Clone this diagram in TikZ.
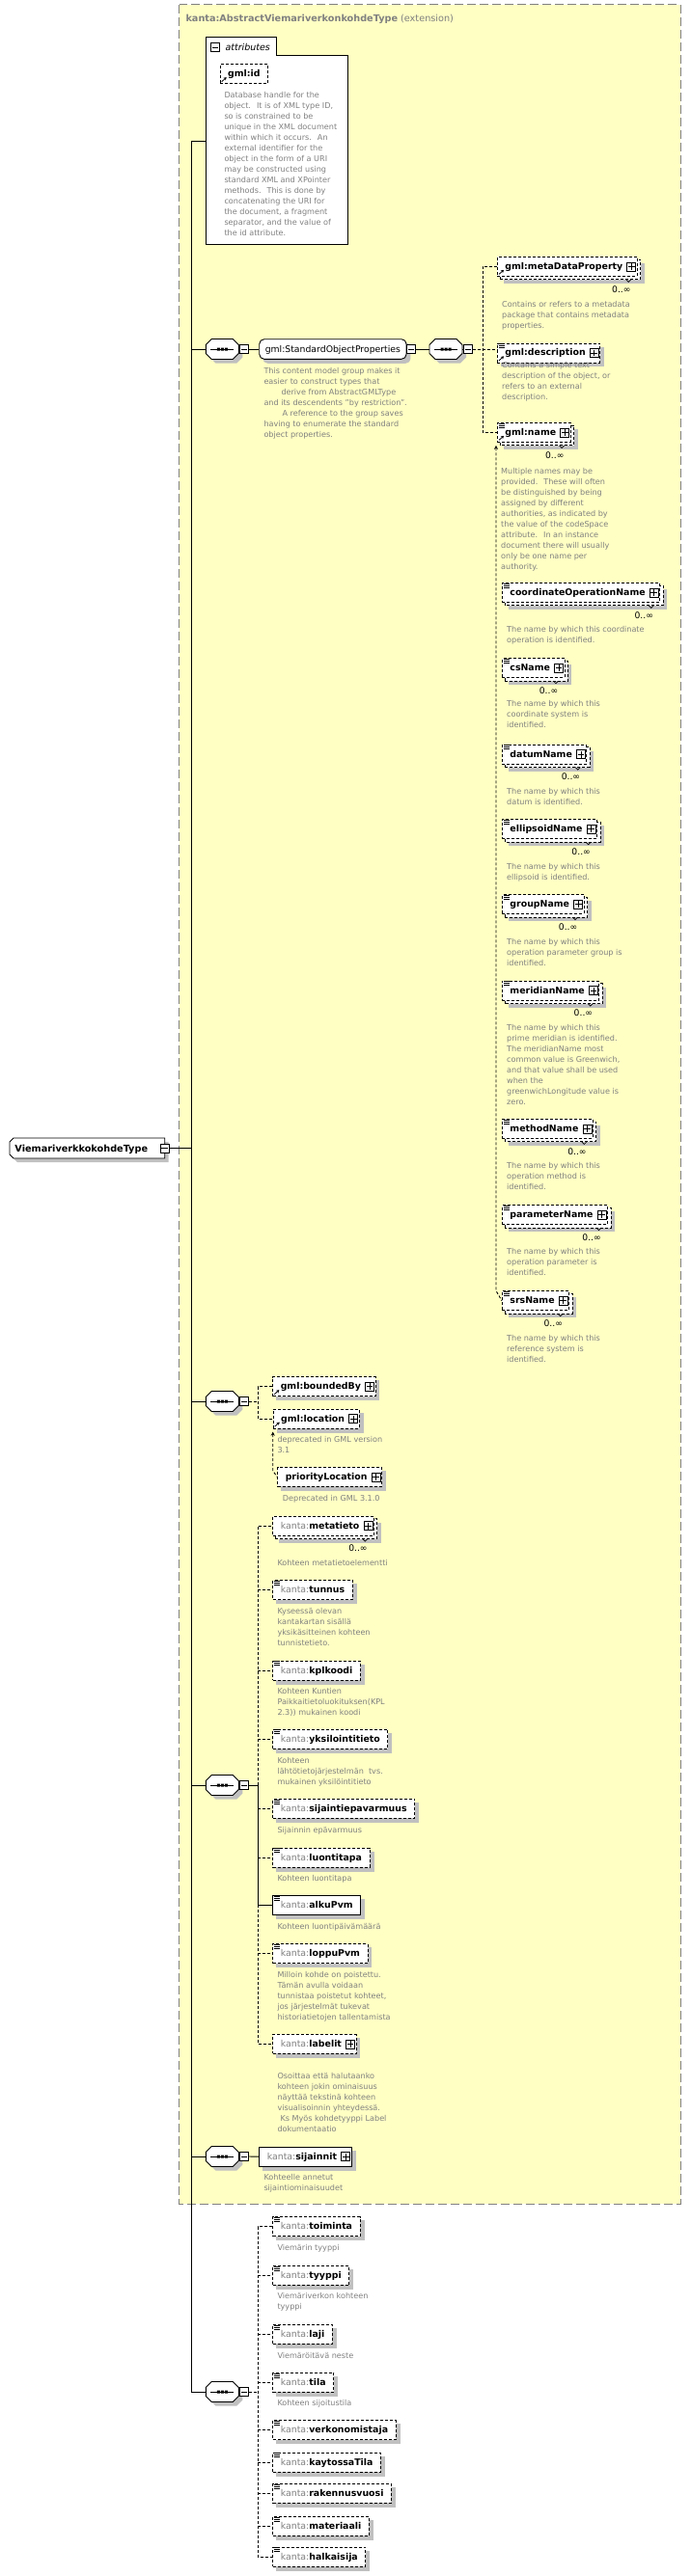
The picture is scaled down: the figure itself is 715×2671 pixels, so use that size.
\documentclass[tikz,border=0pt]{standalone}
\usepackage{fontspec}
\setmainfont{DejaVu Sans}
\usetikzlibrary{arrows.meta}
\pgfdeclarelayer{bgl}
\pgfdeclarelayer{shl}
\pgfsetlayers{bgl,shl,main}
\definecolor{ybg}{RGB}{255,255,196}
\definecolor{ygrey}{RGB}{128,128,128}
\definecolor{shadowc}{RGB}{192,192,192}
\definecolor{doct}{RGB}{128,128,128}
\tikzset{
  ebox/.style={draw=black, fill=white, line width=0.9pt, inner xsep=8pt, inner ysep=0pt, minimum height=20pt, text height=7.5pt, text depth=1.5pt, anchor=north west, font=\fontsize{9.4}{11}\selectfont},
  opt/.style={dash pattern=on 3pt off 2pt},
  docs/.style={inner sep=0pt, align=left, text=doct, font=\fontsize{8.1}{11}\selectfont, anchor=north west},
  conn/.style={line width=0.9pt},
  dconn/.style={line width=0.9pt, dash pattern=on 3pt off 2pt},
  occ/.style={inner sep=0pt, font=\fontsize{9.2}{11}\selectfont, anchor=base east},
  sbox/.style={draw=black, fill=white, line width=0.8pt, inner sep=0pt, minimum width=9pt, minimum height=9pt},
}
\newcommand\xShd[1]{\begin{pgfonlayer}{shl}\fill[shadowc] ([shift={(4pt,-4pt)}]#1.south west) rectangle ([shift={(4pt,-4pt)}]#1.north east);\end{pgfonlayer}}
\newcommand\xStk[1]{\begin{pgfonlayer}{shl}\fill[shadowc] ([shift={(7pt,-7pt)}]#1.south west) rectangle ([shift={(7pt,-7pt)}]#1.north east);
  \draw[fill=white,line width=0.9pt,dash pattern=on 3pt off 2pt] ([shift={(3pt,-3pt)}]#1.south west) rectangle ([shift={(3pt,-3pt)}]#1.north east);\end{pgfonlayer}}
\newcommand\xMinus[1]{\draw[line width=0.8pt] ([xshift=1.8pt]#1.west) -- ([xshift=-1.8pt]#1.east);}
\newcommand\xPlus[1]{\node[sbox,anchor=east] (#1p) at ([xshift=-1.5pt]#1.east) {};
  \draw[line width=0.8pt] ([xshift=1.5pt]#1p.west) -- ([xshift=-1.5pt]#1p.east) ([yshift=-1.5pt]#1p.north) -- ([yshift=1.5pt]#1p.south);}
\newcommand\xDoc[1]{\draw[line width=0.6pt] ([xshift=2pt,yshift=-1pt]#1.north west) -- ++(6pt,0pt) ([xshift=2pt,yshift=-3pt]#1.north west) -- ++(6pt,0pt) ([xshift=2pt,yshift=-5pt]#1.north west) -- ++(6pt,0pt);}
\newcommand\xRef[1]{\draw[line width=0.8pt,-{Stealth[length=3pt,width=3.5pt]}] ([xshift=2pt,yshift=2.5pt]#1.south west) -- ++(5pt,4.5pt);}
\newcommand\xOcc[1]{\node[occ] (#1o) at ([xshift=-7pt,yshift=-16.3pt]#1.south east) {0..∞};
  \draw[line width=0.7pt] ([xshift=-12pt,yshift=-3pt]#1.south east) -- ++(2.5pt,-2.5pt) -- ++(2.5pt,2.5pt);}
\newcommand\xDesc[4]{\node[docs] (#1) at (#2,{#3-5.2}) {\strut #4};}
\newcommand\xSeq[3]{%
  \begin{scope}[shift={(#2,#3)}]
    \fill[shadowc] (10,-6.5) -- (32,-6.5) -- (38,-0.5) -- (38,8.5) -- (32,14.5) -- (10,14.5) -- (4,8.5) -- (4,-0.5) -- cycle;
    \draw[fill=white,line width=0.9pt] (6,-10.5) -- (28,-10.5) -- (34,-4.5) -- (34,4.5) -- (28,10.5) -- (6,10.5) -- (0,4.5) -- (0,-4.5) -- cycle;
    \draw[line width=0.9pt] (5,0) -- (29,0);
    \fill (11.5,-1.5) rectangle (14.5,1.5) (15.5,-1.5) rectangle (18.5,1.5) (19.5,-1.5) rectangle (22.5,1.5);
  \end{scope}
  \node[inner sep=0pt,minimum width=34pt,minimum height=21pt,anchor=west] (#1) at (#2,#3) {};
  \node[sbox,anchor=west] (#1m) at ({#2+35},#3) {};
  \xMinus{#1m}
  \draw[line width=0.9pt] (#1.east) -- (#1m.west);
}
\newcommand\pl{\kern7pt}
\begin{document}
\begin{tikzpicture}[x=1pt,y=-1pt]
\useasboundingbox (0,0) rectangle (715,2671);
\begin{pgfonlayer}{bgl}
\fill[white] (0,0) rectangle (715,2671);
\filldraw[fill=ybg, draw=ygrey, line width=1pt, dash pattern=on 9pt off 4pt] (185.7,5) rectangle (705,2285);
\end{pgfonlayer}
\node[anchor=base west, inner sep=0pt, text=ygrey, font=\fontsize{9.7}{11}\selectfont] (title) at (192.3,23) {\textbf{kanta:AbstractViemariverkonkohdeType} (extension)};

% attributes
\draw[fill=white, line width=0.9pt] (213.3,253.3) -- (213.3,38.3) -- (286.7,38.3) -- (286.7,57.3) -- (360,57.3) -- (360,253.3) -- cycle;
\node[sbox] (attrm) at (223.3,49) {}; \xMinus{attrm}
\node[anchor=base west, inner sep=0pt, font=\fontsize{9.5}{11}\selectfont\itshape] (attrl) at (233.3,52.5) {attributes};
\coordinate (attrin) at (213.3,146);
\node[ebox,opt] (gid) at (227.7,66.3) {\textbf{gml:id}}; \xShd{gid}\xRef{gid}
\xDesc{giddoc}{232.3}{98.7}{Database handle for the\\object.~ It is of XML type ID,\\so is constrained to be\\unique in the XML document\\within which it occurs.~ An\\external identifier for the\\object in the form of a URI\\may be constructed using\\standard XML and XPointer\\methods.~ This is done by\\concatenating the URI for\\the document, a fragment\\separator, and the value of\\the id attribute.}

% root
\fill[shadowc] (18,1184) -- (174.7,1184) -- (174.7,1205) -- (18,1205) -- (14,1201) -- (14,1188) -- cycle;
\draw[fill=white, line width=0.9pt] (14,1180) -- (170.7,1180) -- (170.7,1201) -- (14,1201) -- (10,1197) -- (10,1184) -- cycle;
\node[anchor=base west, inner sep=0pt, font=\fontsize{9.7}{11}\selectfont\bfseries] (root) at (15.3,1194) {ViemariverkkokohdeType};
\node[sbox] (rootm) at (170.4,1190.7) {}; \xMinus{rootm}
\coordinate (mtop) at (198.3,146);
\coordinate (mbot) at (198.3,2480);
\draw[conn] (mtop) -- (mbot);
\draw[conn] (rootm.east) -- (rootm.east -| mtop);
\draw[conn] (mtop) -- (attrin);

% section 1
\xSeq{sqa}{213.3}{362}
\draw[conn] (sqa.west -| mtop) -- (sqa.west);
\node[draw=black, fill=white, line width=0.9pt, rounded corners=5pt, inner xsep=6pt, inner ysep=0pt, minimum height=20.6pt, text height=7.5pt, text depth=1.5pt, anchor=west, font=\fontsize{9.3}{11}\selectfont] (sop) at (268.3,362) {gml:StandardObjectProperties};
\begin{pgfonlayer}{shl}\fill[shadowc, rounded corners=5pt] ([shift={(4pt,-4pt)}]sop.south west) rectangle ([shift={(4pt,-4pt)}]sop.north east);\end{pgfonlayer}
\node[sbox, anchor=west] (sopm) at (sop.east) {}; \xMinus{sopm}
\draw[conn] (sqam.east) -- (sop.west);
\xSeq{sqb}{445}{362}
\draw[conn] (sopm.east) -- (sqb.west);
\xDesc{sopdoc}{273.3}{385}{This content model group makes it\\easier to construct types that\\\hspace*{18pt}derive from AbstractGMLType\\and its descendents "by restriction".\\\hspace*{19pt}A reference to the group saves\\having to enumerate the standard\\object properties.}

\node[ebox,opt] (mdp) at (515,266) {\textbf{gml:metaDataProperty}\pl}; \xStk{mdp}\xPlus{mdp}\xRef{mdp}\xOcc{mdp}
\xDesc{mdpdoc}{520}{316}{Contains or refers to a metadata\\package that contains metadata\\properties.}
\node[ebox,opt] (gdesc) at (515,355.5) {\textbf{gml:description}\pl}; \xShd{gdesc}\xPlus{gdesc}\xDoc{gdesc}\xRef{gdesc}
\xDesc{gdescdoc}{520}{378.3}{Contains a simple text\\description of the object, or\\refers to an external\\description.}
\node[ebox,opt] (gname) at (515,438) {\textbf{gml:name}\pl}; \xStk{gname}\xPlus{gname}\xDoc{gname}\xRef{gname}\xOcc{gname}
\xDesc{gnamedoc}{519}{488.3}{Multiple names may be\\provided.~ These will often\\be distinguished by being\\assigned by different\\authorities, as indicated by\\the value of the codeSpace\\attribute.~ In an instance\\document there will usually\\only be one name per\\authority.}
\coordinate (va) at (500,362);
\draw[dconn] (sqbm.east) -- (gdesc.west |- sqbm.east);
\draw[dconn] (mdp.west) -- (mdp.west -| va) -- (gname.west -| va) -- (gname.west);

\node[ebox,opt] (con) at (520,604) {\textbf{coordinateOperationName}\pl}; \xStk{con}\xPlus{con}\xDoc{con}\xOcc{con}
\xDesc{condoc}{525}{653}{The name by which this coordinate\\operation is identified.}
\node[ebox,opt] (csn) at (520,682.3) {\textbf{csName}\pl}; \xStk{csn}\xPlus{csn}\xDoc{csn}\xOcc{csn}
\xDesc{csndoc}{525}{730}{The name by which this\\coordinate system is\\identified.}
\node[ebox,opt] (dat) at (520,771.7) {\textbf{datumName}\pl}; \xStk{dat}\xPlus{dat}\xDoc{dat}\xOcc{dat}
\xDesc{datdoc}{525}{821}{The name by which this\\datum is identified.}
\node[ebox,opt] (ell) at (520,849.3) {\textbf{ellipsoidName}\pl}; \xStk{ell}\xPlus{ell}\xDoc{ell}\xOcc{ell}
\xDesc{elldoc}{525}{898.7}{The name by which this\\ellipsoid is identified.}
\node[ebox,opt] (grp) at (520,927.3) {\textbf{groupName}\pl}; \xStk{grp}\xPlus{grp}\xDoc{grp}\xOcc{grp}
\xDesc{grpdoc}{525}{976.7}{The name by which this\\operation parameter group is\\identified.}
\node[ebox,opt] (mer) at (520,1016.7) {\textbf{meridianName}\pl}; \xStk{mer}\xPlus{mer}\xDoc{mer}\xOcc{mer}
\xDesc{merdoc}{525}{1065.7}{The name by which this\\prime meridian is identified.\\The meridianName most\\common value is Greenwich,\\and that value shall be used\\when the\\greenwichLongitude value is\\zero.}
\node[ebox,opt] (meth) at (520,1160) {\textbf{methodName}\pl}; \xStk{meth}\xPlus{meth}\xDoc{meth}\xOcc{meth}
\xDesc{methdoc}{525}{1209}{The name by which this\\operation method is\\identified.}
\node[ebox,opt] (par) at (520,1249.3) {\textbf{parameterName}\pl}; \xStk{par}\xPlus{par}\xDoc{par}\xOcc{par}
\xDesc{pardoc}{525}{1298}{The name by which this\\operation parameter is\\identified.}
\node[ebox,opt] (srs) at (520,1338.3) {\textbf{srsName}\pl}; \xStk{srs}\xPlus{srs}\xDoc{srs}\xOcc{srs}
\xDesc{srsdoc}{525}{1387.7}{The name by which this\\reference system is\\identified.}
\coordinate (sa) at ([xshift=-1pt,yshift=-3pt]gname.south west);
\coordinate (sb) at (sa |- srs.north west);
\draw[dconn,{Stealth[length=4pt,width=4pt]}-] (sa) -- (sb) -- (srs.west);

% section 2
\xSeq{sqc}{213.3}{1453}
\draw[conn] (sqc.west -| mtop) -- (sqc.west);
\node[ebox,opt] (bby) at (282.3,1427.3) {\textbf{gml:boundedBy}\pl}; \xShd{bby}\xPlus{bby}\xRef{bby}
\node[ebox,opt] (gloc) at (282.7,1460.7) {\textbf{gml:location}\pl}; \xShd{gloc}\xPlus{gloc}\xRef{gloc}
\coordinate (vc) at (267.3,1453);
\draw[dconn] (sqcm.east) -- (vc);
\draw[dconn] (bby.west) -- (bby.west -| vc) -- (gloc.west -| vc) -- (gloc.west);
\node[ebox,opt] (ploc) at (287.3,1521) {\textbf{priorityLocation}\pl}; \xShd{ploc}\xPlus{ploc}
\coordinate (sc) at ([yshift=-3pt]gloc.south west);
\coordinate (sd) at ([yshift=-4pt]sc |- ploc.north west);
\draw[dconn,{Stealth[length=4pt,width=4pt]}-] (sc) -- (sd) -- (ploc.west);
\xDesc{glocdoc}{287.3}{1492.7}{deprecated in GML version\\3.1}
\xDesc{plocdoc}{292.7}{1553.3}{Deprecated in GML 3.1.0}

% section 3
\xSeq{sqd}{213.3}{1851}
\draw[conn] (sqd.west -| mtop) -- (sqd.west);
\node[ebox,opt] (meta) at (282.3,1571.7) {{\color{ygrey}kanta:}\textbf{metatieto}\pl}; \xStk{meta}\xPlus{meta}\xOcc{meta}
\xDesc{metadoc}{287.3}{1621}{Kohteen metatietoelementti}
\node[ebox,opt] (tun) at (282.3,1638.3) {{\color{ygrey}kanta:}\textbf{tunnus}}; \xShd{tun}\xDoc{tun}
\xDesc{tundoc}{287.3}{1670.7}{Kyseessä olevan\\kantakartan sisällä\\yksikäsitteinen kohteen\\tunnistetieto.}
\node[ebox,opt] (kpl) at (282.3,1721.7) {{\color{ygrey}kanta:}\textbf{kplkoodi}}; \xShd{kpl}\xDoc{kpl}
\xDesc{kpldoc}{287.3}{1753.3}{Kohteen Kuntien\\Paikkaitietoluokituksen(KPL\\2.3)) mukainen koodi}
\node[ebox,opt] (yks) at (282.3,1792.7) {{\color{ygrey}kanta:}\textbf{yksilointitieto}}; \xShd{yks}\xDoc{yks}
\xDesc{yksdoc}{287.3}{1825.7}{Kohteen\\lähtötietojärjestelmän~ tvs.\\mukainen yksilöintitieto}
\node[ebox,opt] (sij) at (282.3,1865) {{\color{ygrey}kanta:}\textbf{sijaintiepavarmuus}}; \xShd{sij}\xDoc{sij}
\xDesc{sijdoc}{287.3}{1897.7}{Sijainnin epävarmuus}
\node[ebox,opt] (luo) at (282.3,1915.7) {{\color{ygrey}kanta:}\textbf{luontitapa}}; \xShd{luo}\xDoc{luo}
\xDesc{luodoc}{287.3}{1947.3}{Kohteen luontitapa}
\node[ebox] (alku) at (282.3,1965) {{\color{ygrey}kanta:}\textbf{alkuPvm}}; \xShd{alku}\xDoc{alku}
\xDesc{alkudoc}{287.3}{1997.3}{Kohteen luontipäivämäärä}
\node[ebox,opt] (lop) at (282.3,2015.3) {{\color{ygrey}kanta:}\textbf{loppuPvm}}; \xShd{lop}\xDoc{lop}
\xDesc{lopdoc}{287.3}{2047.7}{Milloin kohde on poistettu.\\Tämän avulla voidaan\\tunnistaa poistetut kohteet,\\jos järjestelmät tukevat\\historiatietojen tallentamista}
\node[ebox,opt] (lab) at (282.3,2109) {{\color{ygrey}kanta:}\textbf{labelit}\pl}; \xShd{lab}\xPlus{lab}
\xDesc{labdoc}{287.3}{2152.3}{Osoittaa että halutaanko\\kohteen jokin ominaisuus\\näyttää tekstinä kohteen\\visualisoinnin yhteydessä.\\\hspace*{3pt}Ks Myös kohdetyyppi Label\\dokumentaatio}
\coordinate (vd) at (267.3,1851);
\draw[conn] (sqdm.east) -- (vd) -- (vd |- alku.west) -- (alku.west);
\draw[dconn] (vd) -- (vd |- meta.west) -- (meta.west);
\foreach \n in {tun,kpl,yks,sij,luo,lop} \draw[dconn] (vd |- \n.west) -- (\n.west);
\draw[dconn] (vd |- alku.west) -- (vd |- lab.west) -- (lab.west);

% section 4
\xSeq{sqe}{213.3}{2236}
\draw[conn] (sqe.west -| mtop) -- (sqe.west);
\node[ebox] (sijn) at (268.3,2225.7) {{\color{ygrey}kanta:}\textbf{sijainnit}\pl}; \xShd{sijn}\xPlus{sijn}
\draw[conn] (sqem.east) -- (sijn.west);
\xDesc{sijndoc}{273.3}{2257.3}{Kohteelle annetut\\sijaintiominaisuudet}

% section 5
\xSeq{sqf}{213.3}{2480}
\draw[conn] (mbot) -- (sqf.west);
\node[ebox,opt] (toim) at (282.3,2298.3) {{\color{ygrey}kanta:}\textbf{toiminta}}; \xShd{toim}\xDoc{toim}
\xDesc{toimdoc}{287.3}{2331}{Viemärin tyyppi}
\node[ebox,opt] (tyyp) at (282.3,2349) {{\color{ygrey}kanta:}\textbf{tyyppi}}; \xShd{tyyp}\xDoc{tyyp}
\xDesc{tyypdoc}{287.3}{2380.7}{Viemäriverkon kohteen\\tyyppi}
\node[ebox,opt] (laji) at (282.3,2410) {{\color{ygrey}kanta:}\textbf{laji}}; \xShd{laji}\xDoc{laji}
\xDesc{lajidoc}{287.3}{2442.3}{Viemäröitävä neste}
\node[ebox,opt] (tila) at (282.3,2460) {{\color{ygrey}kanta:}\textbf{tila}}; \xShd{tila}\xDoc{tila}
\xDesc{tiladoc}{287.3}{2491.7}{Kohteen sijoitustila}
\node[ebox,opt] (verk) at (282.3,2509.3) {{\color{ygrey}kanta:}\textbf{verkonomistaja}}; \xShd{verk}\xDoc{verk}
\node[ebox,opt] (kayt) at (282.3,2542.7) {{\color{ygrey}kanta:}\textbf{kaytossaTila}}; \xShd{kayt}\xDoc{kayt}
\node[ebox,opt] (rak) at (282.3,2575) {{\color{ygrey}kanta:}\textbf{rakennusvuosi}}; \xShd{rak}\xDoc{rak}
\node[ebox,opt] (mat) at (282.3,2609) {{\color{ygrey}kanta:}\textbf{materiaali}}; \xShd{mat}\xDoc{mat}
\node[ebox,opt] (halk) at (282.3,2640.7) {{\color{ygrey}kanta:}\textbf{halkaisija}}; \xShd{halk}\xDoc{halk}
\coordinate (vf) at (267.3,2480);
\draw[dconn] (sqfm.east) -- (vf);
\draw[dconn] (toim.west) -- (toim.west -| vf) -- (halk.west -| vf) -- (halk.west);
\foreach \n in {tyyp,laji,tila,verk,kayt,rak,mat} \draw[dconn] (vf |- \n.west) -- (\n.west);
\end{tikzpicture}
\end{document}
